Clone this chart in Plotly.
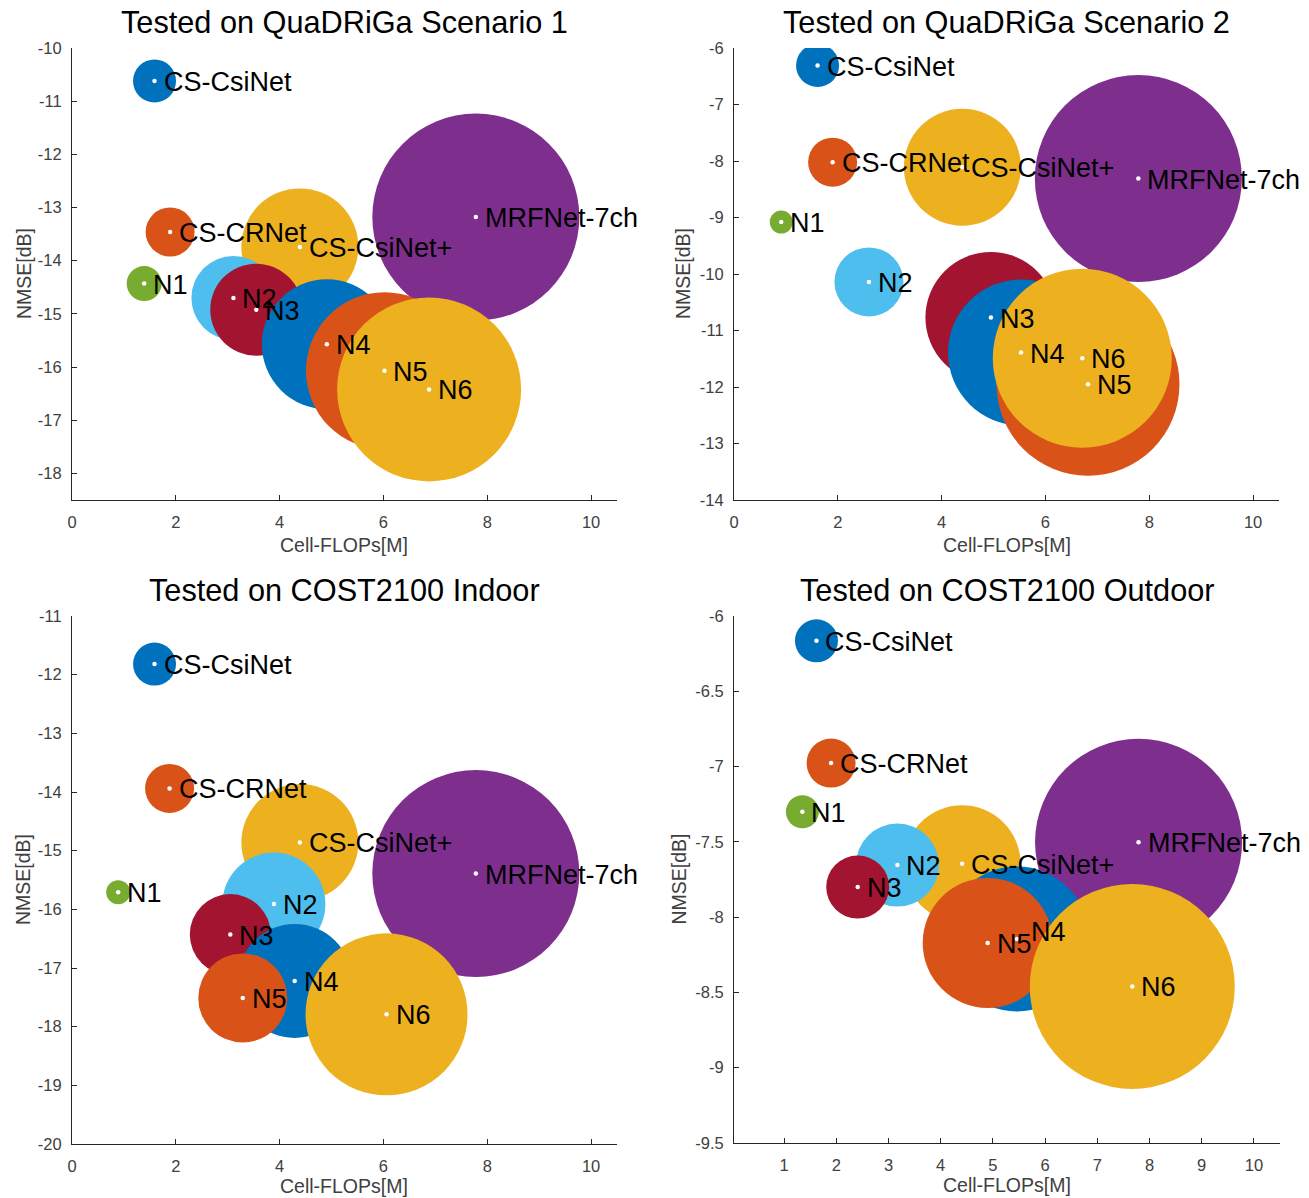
import plotly.graph_objects as go

# ---------------- data ----------------
models = ["CS-CsiNet", "CS-CRNet", "CS-CsiNet+", "MRFNet-7ch",
          "N1", "N2", "N3", "N4", "N5", "N6"]

titles = ["Tested on QuaDRiGa Scenario 1", "Tested on QuaDRiGa Scenario 2",
          "Tested on COST2100 Indoor", "Tested on COST2100 Outdoor"]

x_label = "Cell-FLOPs[M]"
y_label = "NMSE[dB]"

# Cell-FLOPs [M]
s1_flops = [1.59, 1.89, 4.39, 7.78, 1.39, 3.11, 3.55, 4.91, 6.02, 6.88]
s2_flops = [1.61, 1.90, 4.40, 7.79, 0.91, 2.60, 4.95, 5.53, 6.82, 6.71]
s3_flops = [1.59, 1.88, 4.39, 7.78, 0.89, 3.89, 3.05, 4.29, 3.29, 6.06]
s4_flops = [1.62, 1.90, 4.41, 7.79, 1.35, 3.17, 2.41, 5.46, 4.90, 7.67]

# NMSE [dB]
s1_nmse = [-10.62, -13.46, -13.74, -13.18, -14.43, -14.70, -14.92, -15.57, -16.07, -16.42]
s2_nmse = [-6.31, -8.02, -8.11, -8.31, -9.08, -10.14, -10.77, -11.39, -11.95, -11.49]
s3_nmse = [-11.82, -13.94, -14.86, -15.39, -15.71, -15.91, -16.43, -17.22, -17.51, -17.79]
s4_nmse = [-6.165, -6.977, -7.646, -7.503, -7.30, -7.654, -7.80, -8.145, -8.171, -8.46]

# bubble magnitude (relative units)
s1_bubble = [43, 49, 117, 207, 35, 84, 92, 130, 157, 184]
s2_bubble = [43, 49, 117, 207, 23, 69, 131, 146, 183, 179]
s3_bubble = [43, 49, 117, 207, 24, 103, 81, 114, 89, 162]
s4_bubble = [43, 49, 117, 207, 33, 83, 63, 145, 130, 205]

x_ticks_a = [0, 2, 4, 6, 8, 10]
x_ticks_b = [1, 2, 3, 4, 5, 6, 7, 8, 9, 10]
y_ticks_1 = [-18, -17, -16, -15, -14, -13, -12, -11, -10]
y_ticks_2 = [-14, -13, -12, -11, -10, -9, -8, -7, -6]
y_ticks_3 = [-20, -19, -18, -17, -16, -15, -14, -13, -12, -11]
y_ticks_4 = [-9.5, -9, -8.5, -8, -7.5, -7, -6.5, -6]

# ---------------- style / layout ----------------
W, H = 1309, 1198
FONT = "Liberation Sans, Arial, Helvetica, sans-serif"
palette = ["#0072BD", "#D95319", "#EDB120", "#7E2F8E", "#77AC30",
           "#4DBEEE", "#A2142F", "#0072BD", "#D95319", "#EDB120"]
AX_COLOR = "#262626"
TICK_COLOR = "#404040"
SIZE_SCALE = 1.0  # px of diameter per bubble unit

# axes boxes in pixels: (left, right, top, bottom)
boxes = [(72, 617, 48, 500), (734, 1279, 48, 500),
         (72, 617, 616, 1144), (734, 1280, 616, 1143)]
x_ranges = [[0, 10.5], [0, 10.5], [0, 10.5], [0.04, 10.5]]
y_ranges = [[-18.5, -10], [-14, -6], [-20, -11], [-9.5, -6]]
ylab_offsets = [48, 51, 49, 55]
xlab_offsets = [45, 45, 42, 42]
# label nudges (panel index, model) -> (dx px, dy px)
nudges = {(3, "N4"): (5, 8)}

flops = [s1_flops, s2_flops, s3_flops, s4_flops]
nmse = [s1_nmse, s2_nmse, s3_nmse, s4_nmse]
bubbles = [s1_bubble, s2_bubble, s3_bubble, s4_bubble]
xticks = [x_ticks_a, x_ticks_a, x_ticks_a, x_ticks_b]
yticks = [y_ticks_1, y_ticks_2, y_ticks_3, y_ticks_4]


def fx(px):
    return px / W


def fy(py):
    return 1 - py / H


fig = go.Figure()
annotations = []
layout_axes = {}

for i in range(4):
    xa = "x" if i == 0 else f"x{i+1}"
    ya = "y" if i == 0 else f"y{i+1}"
    xkey = "xaxis" if i == 0 else f"xaxis{i+1}"
    ykey = "yaxis" if i == 0 else f"yaxis{i+1}"
    l, r, t, b = boxes[i]

    fig.add_trace(go.Scatter(
        x=flops[i], y=nmse[i], mode="markers", xaxis=xa, yaxis=ya,
        marker=dict(size=[v * SIZE_SCALE for v in bubbles[i]], sizemode="diameter",
                    color=palette, opacity=1, line=dict(width=0)),
        hoverinfo="skip", showlegend=False))
    fig.add_trace(go.Scatter(
        x=flops[i], y=nmse[i], mode="markers", xaxis=xa, yaxis=ya,
        marker=dict(size=4.5, color="white", line=dict(width=0)),
        hoverinfo="skip", showlegend=False))

    for name, xv, yv in zip(models, flops[i], nmse[i]):
        dx, dy = nudges.get((i, name), (0, 0))
        annotations.append(dict(
            x=xv, y=yv, xref=xa, yref=ya, text=name, showarrow=False,
            xanchor="left", yanchor="middle", xshift=7 + dx, yshift=dy - 1,
            font=dict(family=FONT, size=27, color="black")))

    tick_style = dict(ticks="inside", ticklen=5, tickwidth=1, tickcolor=AX_COLOR,
                      showline=True, linecolor=AX_COLOR, linewidth=1,
                      showgrid=False, zeroline=False, automargin=False,
                      tickfont=dict(family=FONT, size=16.5, color=TICK_COLOR))
    layout_axes[xkey] = dict(domain=[fx(l), fx(r)], range=x_ranges[i], anchor=ya,
                             tickvals=xticks[i], ticktext=[f"{v:g}" for v in xticks[i]],
                             ticklabelstandoff=7, **tick_style)
    layout_axes[ykey] = dict(domain=[fy(b), fy(t)], range=y_ranges[i], anchor=xa,
                             tickvals=yticks[i], ticktext=[f"{v:g}" for v in yticks[i]],
                             ticklabelstandoff=6, **tick_style)

    cx = (l + r) / 2
    annotations.append(dict(x=fx(cx), y=fy(t - 26), xref="paper", yref="paper",
                            text=titles[i], showarrow=False, xanchor="center",
                            yanchor="middle", borderpad=0, borderwidth=0,
                            font=dict(family=FONT, size=30.7, color="black")))
    annotations.append(dict(x=fx(cx), y=fy(b + xlab_offsets[i]), xref="paper",
                            yref="paper", text=x_label, showarrow=False,
                            xanchor="center", yanchor="middle", borderpad=0,
                            borderwidth=0,
                            font=dict(family=FONT, size=19.5, color=TICK_COLOR)))
    annotations.append(dict(x=fx(l - ylab_offsets[i]), y=fy((t + b) / 2),
                            xref="paper", yref="paper", text=y_label, showarrow=False,
                            textangle=-90, xanchor="center", yanchor="middle",
                            font=dict(family=FONT, size=19.5, color=TICK_COLOR)))

fig.update_layout(width=W, height=H, margin=dict(l=0, r=0, t=0, b=0, autoexpand=False),
                  paper_bgcolor="white", plot_bgcolor="white",
                  showlegend=False, annotations=annotations, **layout_axes)

fig.write_html("out.html", config={"displayModeBar": False},
               post_script="document.body.style.margin='0';document.body.style.overflow='hidden';")
